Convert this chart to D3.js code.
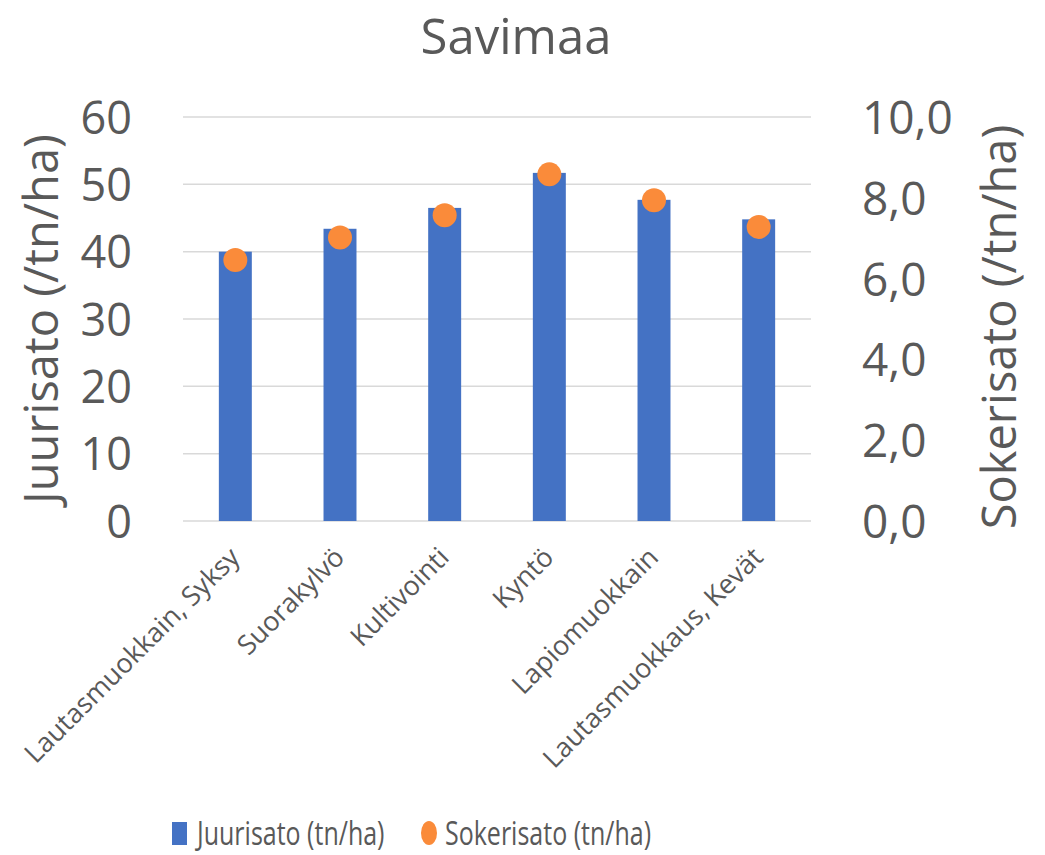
<!DOCTYPE html>
<html lang="fi">
  <head>
    <meta charset="UTF-8" />
    <script src="https://d3js.org/d3.v7.min.js"></script>
    <title>Savimaa</title>
    <style>
      body { margin: 0; background: #fff; }
      text { font-family: "Open Sans", "Noto Sans", sans-serif; fill: #595959; }
    </style>
  </head>
  <body>
    <script>
      // data
      const categories = ["Lautasmuokkain, Syksy", "Suorakylvö", "Kultivointi", "Kyntö", "Lapiomuokkain", "Lautasmuokkaus, Kevät"];
      const juurisato = [40.0, 43.4, 46.5, 51.7, 47.7, 44.8];
      const sokerisato = [6.46, 7.02, 7.57, 8.58, 7.94, 7.28];
      const leftTicks = [0, 10, 20, 30, 40, 50, 60];
      const rightTicks = [0, 2, 4, 6, 8, 10];
      const seriesNames = ["Juurisato (tn/ha)", "Sokerisato (tn/ha)"];

      const W = 1045, H = 855;
      const plot = { left: 183, right: 811, top: 117, bottom: 521 };

      const svg = d3.select("body").append("svg")
        .attr("width", W)
        .attr("height", H);

      const x = d3.scaleBand()
        .domain(categories)
        .range([plot.left, plot.right])
        .paddingInner(0.685)
        .paddingOuter(0.3425);

      const yL = d3.scaleLinear().domain([0, 60]).range([plot.bottom, plot.top]);
      const yR = d3.scaleLinear().domain([0, 10]).range([plot.bottom, plot.top]);

      // title
      svg.append("text")
        .attr("x", 516)
        .attr("y", 54)
        .attr("text-anchor", "middle")
        .style("font-size", "49px")
        .text("Savimaa");

      // gridlines
      svg.append("g")
        .selectAll("line")
        .data(leftTicks)
        .join("line")
        .attr("x1", plot.left)
        .attr("x2", plot.right)
        .attr("y1", d => yL(d))
        .attr("y2", d => yL(d))
        .attr("stroke", "#d9d9d9")
        .attr("stroke-width", 1.5);

      // left axis
      const axisL = d3.axisLeft(yL).tickValues(leftTicks).tickSize(0).tickPadding(0);
      const gL = svg.append("g").attr("transform", `translate(${132},0)`).call(axisL);
      gL.select(".domain").remove();
      gL.selectAll("text")
        .attr("dy", "0.36em")
        .style("font-size", "45px")
        .style("font-family", "'Open Sans', sans-serif")
        .attr("fill", "#595959");

      // right axis
      const axisR = d3.axisRight(yR).tickValues(rightTicks).tickSize(0).tickPadding(0)
        .tickFormat(d => d3.format(".1f")(d).replace(".", ","));
      const gR = svg.append("g").attr("transform", `translate(${862},0)`).call(axisR);
      gR.select(".domain").remove();
      gR.selectAll("text")
        .attr("dy", "0.36em")
        .style("font-size", "46px")
        .style("font-family", "'Open Sans', sans-serif")
        .attr("fill", "#595959");

      // axis titles
      svg.append("text")
        .attr("transform", `translate(58,${(plot.top + plot.bottom) / 2}) rotate(-90)`)
        .attr("text-anchor", "middle")
        .style("font-size", "47px")
        .text("Juurisato (/tn/ha)");

      svg.append("text")
        .attr("transform", `translate(1016,${(plot.top + plot.bottom) / 2 + 8}) rotate(-90)`)
        .attr("text-anchor", "middle")
        .style("font-size", "47px")
        .text("Sokerisato (/tn/ha)");

      // bars
      svg.append("g")
        .selectAll("rect")
        .data(juurisato)
        .join("rect")
        .attr("x", (d, i) => x(categories[i]))
        .attr("y", d => yL(d))
        .attr("width", x.bandwidth())
        .attr("height", d => yL(0) - yL(d))
        .attr("fill", "#4472c4");

      // dots
      svg.append("g")
        .selectAll("circle")
        .data(sokerisato)
        .join("circle")
        .attr("cx", (d, i) => x(categories[i]) + x.bandwidth() / 2)
        .attr("cy", d => yR(d))
        .attr("r", 12)
        .attr("fill", "#fa8b3a");

      // category labels
      svg.append("g")
        .selectAll("text")
        .data(categories)
        .join("text")
        .attr("transform", d => `translate(${x(d) + x.bandwidth() / 2 + 6},${559}) rotate(-45)`)
        .attr("text-anchor", "end")
        .style("font-size", "27px")
        .text(d => d);

      // legend (text is stretched vertically as in the reference)
      const lg = svg.append("g");
      lg.append("rect")
        .attr("x", 172).attr("y", 822)
        .attr("width", 15).attr("height", 23)
        .attr("fill", "#4472c4");
      lg.append("text")
        .attr("transform", "translate(197,845) scale(1,1.3)")
        .style("font-size", "25px")
        .text(seriesNames[0]);
      lg.append("ellipse")
        .attr("cx", 429).attr("cy", 833)
        .attr("rx", 8).attr("ry", 12)
        .attr("fill", "#fa8b3a");
      lg.append("text")
        .attr("transform", "translate(445,845) scale(1,1.3)")
        .style("font-size", "25px")
        .text(seriesNames[1]);
    </script>
  </body>
</html>
